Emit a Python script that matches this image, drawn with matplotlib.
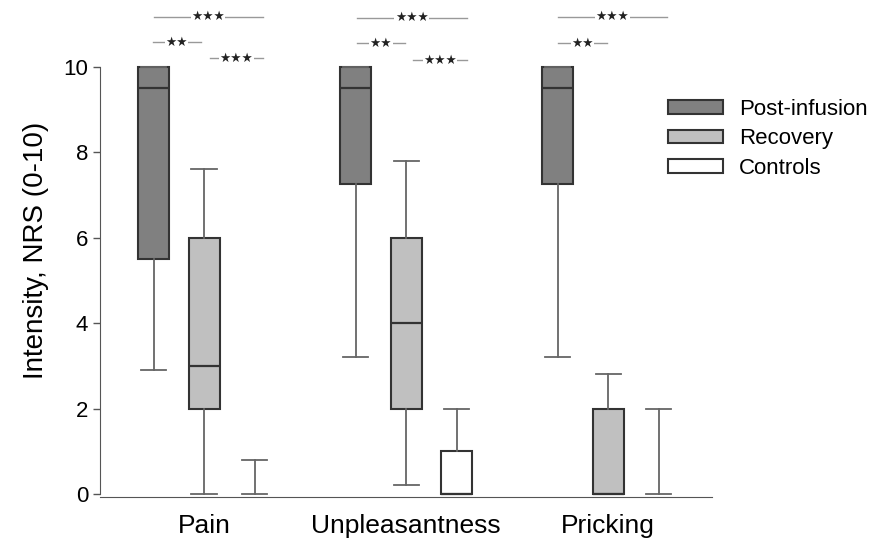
import matplotlib
matplotlib.use('Agg')
import matplotlib.pyplot as plt
from matplotlib.patches import Patch

plt.rcParams['font.family'] = ['Liberation Sans', 'DejaVu Sans']

categories = ['Pain', 'Unpleasantness', 'Pricking']
groups = ['Post-infusion', 'Recovery', 'Controls']
colors = ['#808080', '#c0c0c0', '#ffffff']

# box stats per group, one entry per category: (whislo, q1, med, q3, whishi)
post_infusion = [(2.9, 5.5, 9.5, 10, 10), (3.2, 7.25, 9.5, 10, 10), (3.2, 7.25, 9.5, 10, 10)]
recovery = [(0, 2, 3, 6, 7.6), (0.2, 2, 4, 6, 7.8), (0, 0, 0, 2, 2.8)]
controls = [(0, 0, 0, 0, 0.8), (0, 0, 0, 1, 2), (0, 0, 0, 0, 2)]

# significance bars relative to category centre: (x0, x1, y, label)
sig_bars = [
    [(-0.25, 0.29, 11.18, '★★★'), (-0.255, -0.015, 10.58, '★★'), (0.03, 0.29, 10.2, '★★★')],
    [(-0.245, 0.30, 11.15, '★★★'), (-0.245, -0.005, 10.56, '★★'), (0.035, 0.30, 10.16, '★★★')],
    [(-0.25, 0.29, 11.18, '★★★'), (-0.25, -0.005, 10.56, '★★')],
]

fig = plt.figure(figsize=(8.81, 5.45), dpi=100)
ax = fig.add_axes([0.1135, 0.0873, 0.695, 0.9073])

offsets = [-0.25, 0, 0.25]
for g, data in enumerate([post_infusion, recovery, controls]):
    stats = []
    for lo, q1, med, q3, hi in data:
        stats.append(dict(whislo=lo, q1=q1, med=med, q3=q3, whishi=hi, fliers=[]))
    pos = [i + offsets[g] for i in range(len(categories))]
    bp = ax.bxp(stats, positions=pos, widths=0.153, capwidths=0.125, patch_artist=True,
                showfliers=False,
                boxprops=dict(facecolor=colors[g], edgecolor='#333333', linewidth=1.5),
                medianprops=dict(color='#333333', linewidth=1.6),
                whiskerprops=dict(color='#666666', linewidth=1.3),
                capprops=dict(color='#666666', linewidth=1.3))
    # collapsed boxes (q1 == q3) show only the whisker cap
    for st, box, med in zip(stats, bp['boxes'], bp['medians']):
        if st['q1'] == st['q3']:
            box.set_visible(False)
            med.set_visible(False)

for i, bars in enumerate(sig_bars):
    for x0, x1, y, lab in bars:
        ax.plot([i + x0, i + x1], [y, y], color='#999999', lw=1, clip_on=False)
        ax.text(i + (x0 + x1) / 2, y, lab, ha='center', va='center', fontsize=9,
                color='#222222', family='DejaVu Sans',
                bbox=dict(facecolor='white', edgecolor='none', pad=0.3))

ax.set_xlim(-0.515, 2.515)
ax.set_ylim(-0.08, 11.5)
ax.set_yticks([0, 2, 4, 6, 8, 10])
ax.set_xticks(range(len(categories)))
ax.set_xticklabels(categories, fontsize=19)
ax.tick_params(axis='x', length=0, pad=12)
ax.tick_params(axis='y', labelsize=16, length=5, color='#555555', width=1)
ax.set_ylabel('Intensity, NRS (0-10)', fontsize=20, labelpad=10)

for s in ['top', 'right']:
    ax.spines[s].set_visible(False)
ax.spines['left'].set_bounds(0, 10)
ax.spines['left'].set_color('#555555')
ax.spines['bottom'].set_color('#555555')

handles = [Patch(facecolor=c, edgecolor='#333333', linewidth=1.5) for c in colors]
fig.legend(handles, groups, loc='upper left', bbox_to_anchor=(0.735, 0.855),
           frameon=False, fontsize=16, handlelength=2.5, handleheight=0.55,
           handletextpad=0.7, labelspacing=0.38)

fig.savefig('out.png', dpi=100)
